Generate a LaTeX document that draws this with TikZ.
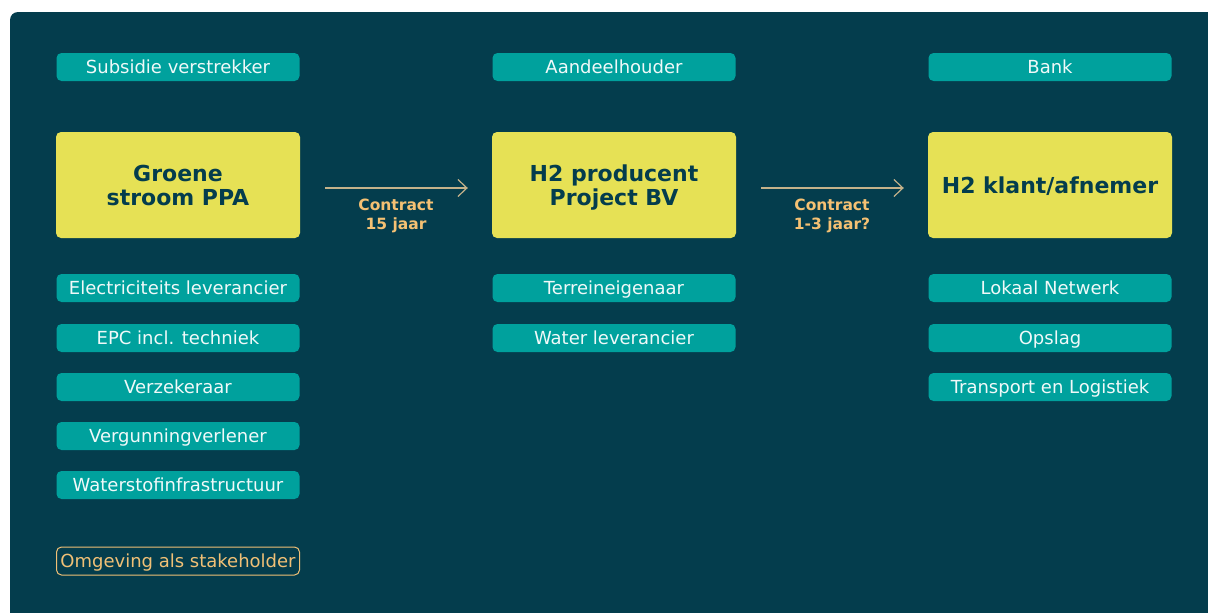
\documentclass[tikz,border=0pt]{standalone}
\usepackage{fontspec}
\setmainfont{DejaVu Sans}
\usetikzlibrary{arrows.meta}

\definecolor{bgteal}{RGB}{4,61,77}
\definecolor{boxteal}{RGB}{0,161,157}
\definecolor{boxyellow}{RGB}{230,225,85}
\definecolor{contractc}{RGB}{245,193,115}
\definecolor{arrowc}{RGB}{196,178,138}
\definecolor{omgc}{RGB}{240,192,118}

\begin{document}
\begin{tikzpicture}[x=1pt,y=-1pt,
    party/.style={fill=boxteal, rounded corners=5pt, inner sep=0pt,
      minimum width=243pt, minimum height=28pt, text=white!94!boxteal,
      text height=14pt, text depth=1.5pt,
      font=\fontsize{18}{21}\selectfont},
    mainbox/.style={fill=boxyellow, rounded corners=5pt, inner sep=0pt,
      minimum width=244pt, minimum height=106pt, text=bgteal, align=center,
      text depth=0pt, font=\fontsize{22}{24}\selectfont\bfseries},
    omgbox/.style={party, fill=none, draw=omgc, line width=1pt, text=omgc},
    contract/.style={draw=arrowc, line width=1.2pt,
      -{Straight Barb[length=9pt,width=17pt,line width=1.2pt]},
      shorten <=25pt, shorten >=24pt},
    contractlabel/.style={text=contractc, align=center,
      font=\fontsize{15.5}{19}\selectfont\bfseries}]
  \useasboundingbox (0,0) rectangle (1208,613);
  \fill[white] (0,0) rectangle (1208,613);
  \fill[bgteal, rounded corners=8pt] (10,12) rectangle (1230,640);

  % main parties
  \node[mainbox] (ppa) at (178,185) {Groene\\stroom PPA};
  \node[mainbox] (h2prod) at (614,185) {H2 producent\\Project BV};
  \node[mainbox] (klant) at (1050,185) {H2 klant/afnemer};

  % contracts
  \draw[contract] ([yshift=-3pt]ppa.east) -- ([yshift=-3pt]h2prod.west)
    node[midway, below=7pt, contractlabel] (c1) {Contract\\15 jaar};
  \draw[contract] ([yshift=-3pt]h2prod.east) -- ([yshift=-3pt]klant.west)
    node[midway, below=7pt, contractlabel] (c2) {Contract\\1-3 jaar?};

  % stakeholders
  \node[party] (subsidie) at (178,67) {Subsidie verstrekker};
  \node[party] (elek) at (178,288) {Electriciteits leverancier};
  \node[party] (epc) at (178,338) {EPC incl. techniek};
  \node[party] (verz) at (178,387) {Verzekeraar};
  \node[party] (vergun) at (178,436) {Vergunningverlener};
  \node[party] (infra) at (178,485) {Waterstofinfrastructuur};
  \node[omgbox] (omg) at (178,561) {Omgeving als stakeholder};

  \node[party] (aandeel) at (614,67) {Aandeelhouder};
  \node[party] (terrein) at (614,288) {Terreineigenaar};
  \node[party] (water) at (614,338) {Water leverancier};

  \node[party] (bank) at (1050,67) {Bank};
  \node[party] (netwerk) at (1050,288) {Lokaal Netwerk};
  \node[party] (opslag) at (1050,338) {Opslag};
  \node[party] (transport) at (1050,387) {Transport en Logistiek};
\end{tikzpicture}
\end{document}
